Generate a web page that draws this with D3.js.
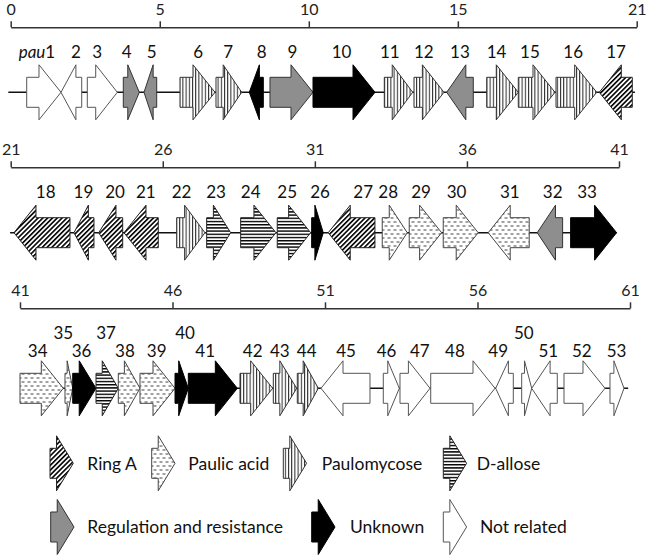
<!DOCTYPE html>
<html><head><meta charset="utf-8">
<script src="https://cdn.jsdelivr.net/npm/d3@7"></script>
<style>body{margin:0;background:#fff}svg{display:block}</style>
</head><body><svg id="chart" width="653" height="556"></svg>
<script>
// ---- data (kb coordinates) ----
const rowDomains = [[0, 21], [21, 41], [41, 61]];
const rowTicks = [[0, 5, 10, 15, 21], [21, 26, 31, 36, 41], [41, 46, 51, 56, 61]];
const backboneExtent = [[-0.08, 20.94], [20.98, 40.92], [41.0, 60.94]];
const categories = ["Ring A", "Paulic acid", "Paulomycose", "D-allose",
  "Regulation and resistance", "Unknown", "Not related"];
// gene: [label, start kb, end kb, strand, category index, label position kb]
const genesRow1 = [
  ["pau1", 0.537, 1.687, 1, 6, 0.88], ["2", 1.687, 2.382, -1, 6, 2.19],
  ["3", 2.570, 3.576, 1, 6, 2.905], ["4", 3.777, 4.314, 1, 4, 3.89],
  ["5", 4.472, 4.898, -1, 4, 4.73], ["6", 5.679, 6.853, 1, 2, 6.29],
  ["7", 6.887, 7.749, 1, 2, 7.30], ["8", 8.004, 8.474, -1, 5, 8.42],
  ["9", 8.698, 10.141, 1, 4, 9.45], ["10", 10.141, 12.221, 1, 5, 11.10],
  ["11", 12.533, 13.485, 1, 2, 12.72], ["12", 13.529, 14.535, 1, 2, 13.86],
  ["13", 14.626, 15.518, -1, 4, 15.07], ["14", 15.968, 17.028, 1, 2, 16.30],
  ["15", 17.028, 18.259, 1, 2, 17.42], ["16", 18.293, 19.658, 1, 2, 18.87],
  ["17", 19.745, 20.852, -1, 0, 20.31]
];
const genesRow2 = [
  ["18", 21.108, 22.949, -1, 0, 22.15], ["19", 23.081, 23.738, -1, 0, 23.39],
  ["20", 23.893, 24.682, -1, 0, 24.43], ["21", 24.725, 25.852, -1, 0, 25.44],
  ["22", 26.457, 27.387, 1, 2, 26.62], ["23", 27.443, 28.232, 1, 3, 27.75],
  ["24", 28.561, 29.721, 1, 3, 28.89], ["25", 29.764, 30.862, 1, 3, 30.09],
  ["26", 30.895, 31.276, 1, 5, 31.17], ["27", 31.440, 32.976, -1, 0, 32.59],
  ["28", 33.216, 34.038, 1, 1, 33.41], ["29", 34.103, 35.168, 1, 1, 34.49],
  ["30", 35.221, 36.371, 1, 1, 35.66], ["31", 36.700, 38.048, -1, 1, 37.41],
  ["32", 38.311, 39.146, -1, 4, 38.82], ["33", 39.409, 40.921, 1, 5, 39.95]
];
const genesRow3 = [
  ["34", 41.0, 42.42, 1, 1, 41.58], ["35", 42.475, 42.728, 1, 1, 42.42],
  ["36", 42.728, 43.492, 1, 5, 43.02], ["37", 43.492, 44.223, 1, 3, 43.82],
  ["38", 44.223, 44.934, 1, 1, 44.44], ["39", 44.934, 46.082, 1, 1, 45.48],
  ["40", 46.082, 46.518, 1, 5, 46.41], ["41", 46.518, 48.125, 1, 5, 47.07],
  ["42", 48.213, 49.285, 1, 2, 48.63], ["43", 49.305, 50.072, 1, 2, 49.52],
  ["44", 50.092, 50.780, 1, 2, 50.40], ["45", 50.869, 52.475, -1, 6, 51.69],
  ["46", 52.911, 53.436, 1, 6, 53.02], ["47", 53.459, 54.443, 1, 6, 54.11],
  ["48", 54.466, 56.574, 1, 6, 55.26], ["49", 56.597, 57.174, -1, 6, 56.68],
  ["50", 57.449, 57.777, 1, 6, 57.52], ["51", 57.777, 58.616, -1, 6, 58.32],
  ["52", 58.836, 60.180, 1, 6, 59.42], ["53", 60.344, 60.803, 1, 6, 60.56]
];
const raisedLabels = ["35", "37", "40", "50"];

// ---- layout & style ----
const rows = [
  {genes: genesRow1, range: [10.7, 636.7], axisY: 27.3, geneY: 92.3, labelY: 52, raisedY: 34},
  {genes: genesRow2, range: [10.7, 619], axisY: 167.3, geneY: 232.7, labelY: 192, raisedY: 174},
  {genes: genesRow3, range: [20, 630], axisY: 308.3, geneY: 388.3, labelY: 351, raisedY: 332.7}
];
const FONT = "Lato, 'Open Sans', sans-serif";
const bodyHalf = 15, headHalf = 27.5, headMax = 22;
const fills = ["url(#pRing)", "url(#pPaulic)", "url(#pPaulo)", "url(#pAllose)", "#8e8e8e", "#000", "#fff"];
const strokes = ["#222", "#444", "#333", "#222", "#333", "#000", "#555"];

const svg = d3.select("#chart");
const defs = svg.append("defs");
// Ring A: diagonal hatch
const pr = defs.append("pattern").attr("id", "pRing").attr("patternUnits", "userSpaceOnUse")
  .attr("width", 3.4).attr("height", 10).attr("patternTransform", "rotate(45)");
pr.append("rect").attr("width", 3.4).attr("height", 10).attr("fill", "#fff");
pr.append("rect").attr("width", 1.6).attr("height", 10).attr("fill", "#000");
// Paulic acid: dashes
const pp = defs.append("pattern").attr("id", "pPaulic").attr("patternUnits", "userSpaceOnUse")
  .attr("width", 6).attr("height", 8);
pp.append("rect").attr("width", 6).attr("height", 8).attr("fill", "#fff");
pp.append("rect").attr("x", 0.5).attr("y", 1.5).attr("width", 3).attr("height", 1).attr("fill", "#444");
pp.append("rect").attr("x", 3.5).attr("y", 5.5).attr("width", 3).attr("height", 1).attr("fill", "#444");
pp.append("rect").attr("x", -2.5).attr("y", 5.5).attr("width", 3).attr("height", 1).attr("fill", "#444");
// Paulomycose: vertical lines
const pv = defs.append("pattern").attr("id", "pPaulo").attr("patternUnits", "userSpaceOnUse")
  .attr("width", 3.2).attr("height", 10);
pv.append("rect").attr("width", 3.2).attr("height", 10).attr("fill", "#fff");
pv.append("rect").attr("width", 1).attr("height", 10).attr("fill", "#222");
// D-allose: horizontal lines
const ph = defs.append("pattern").attr("id", "pAllose").attr("patternUnits", "userSpaceOnUse")
  .attr("width", 10).attr("height", 3.2);
ph.append("rect").attr("width", 10).attr("height", 3.2).attr("fill", "#fff");
ph.append("rect").attr("width", 10).attr("height", 1.4).attr("fill", "#000");

function arrowPath(a, b, strand, y, hMax) {
  const len = b - a;
  const h = Math.min(0.72 * len, hMax);
  if (strand > 0) {
    const hb = b - h;
    return `M${a},${y - bodyHalf}L${hb},${y - bodyHalf}L${hb},${y - headHalf}L${b},${y}` +
      `L${hb},${y + headHalf}L${hb},${y + bodyHalf}L${a},${y + bodyHalf}Z`;
  } else {
    const hb = a + h;
    return `M${b},${y - bodyHalf}L${hb},${y - bodyHalf}L${hb},${y - headHalf}L${a},${y}` +
      `L${hb},${y + headHalf}L${hb},${y + bodyHalf}L${b},${y + bodyHalf}Z`;
  }
}

rows.forEach((row, i) => {
  const x = d3.scaleLinear().domain(rowDomains[i]).range(row.range);
  // scale axis
  const ax = svg.append("g").attr("transform", `translate(0,${row.axisY})`)
    .call(d3.axisTop(x).tickValues(rowTicks[i]).tickSize(6).tickSizeOuter(0).tickPadding(6)
      .tickFormat(d3.format("d")));
  ax.select(".domain").attr("stroke", "#333").attr("stroke-width", 1.5);
  ax.selectAll(".tick line").attr("stroke", "#333").attr("stroke-width", 1.5);
  ax.selectAll(".tick text").attr("font-family", FONT).attr("font-size", 16).attr("fill", "#222");
  // backbone
  svg.append("line").attr("x1", x(backboneExtent[i][0])).attr("x2", x(backboneExtent[i][1]))
    .attr("y1", row.geneY).attr("y2", row.geneY).attr("stroke", "#111").attr("stroke-width", 1.6);
  // genes
  svg.append("g").selectAll("path").data(row.genes).join("path")
    .attr("d", g => arrowPath(x(g[1]), x(g[2]), g[3], row.geneY, headMax))
    .attr("fill", g => fills[g[4]]).attr("stroke", g => strokes[g[4]])
    .attr("stroke-width", 1).attr("stroke-linejoin", "miter");
  // labels
  const lab = svg.append("g").selectAll("text").data(row.genes).join("text")
    .attr("x", g => x(g[5]))
    .attr("y", g => raisedLabels.includes(g[0]) ? row.raisedY : row.labelY)
    .attr("dy", "0.36em").attr("text-anchor", "middle")
    .attr("font-family", FONT).attr("font-size", 17).attr("fill", "#111");
  lab.each(function (g) {
    const t = d3.select(this);
    if (g[0].startsWith("pau")) {
      t.append("tspan").attr("font-style", "italic").text("pau");
      t.append("tspan").text(g[0].slice(3));
    } else t.text(g[0]);
  });
});

// legend
const legendLayout = [
  {ax: 50, tx: 87.3, y: 463.3}, {ax: 151.7, tx: 188.3, y: 463.3},
  {ax: 283.3, tx: 321.7, y: 463.3}, {ax: 443.3, tx: 476.7, y: 463.3},
  {ax: 50.7, tx: 87.3, y: 527}, {ax: 311.7, tx: 350, y: 527}, {ax: 443.3, tx: 480, y: 527}
];
const lg = svg.append("g").selectAll("g").data(categories).join("g");
lg.append("path")
  .attr("d", (c, i) => arrowPath(legendLayout[i].ax, legendLayout[i].ax + 23.3, 1, legendLayout[i].y, 17))
  .attr("fill", (c, i) => fills[i]).attr("stroke", (c, i) => strokes[i]).attr("stroke-width", 1);
lg.append("text").attr("x", (c, i) => legendLayout[i].tx).attr("y", (c, i) => legendLayout[i].y)
  .attr("dy", "0.36em").attr("font-family", FONT).attr("font-size", 17.5).attr("fill", "#111")
  .text(c => c);
</script></body></html>
